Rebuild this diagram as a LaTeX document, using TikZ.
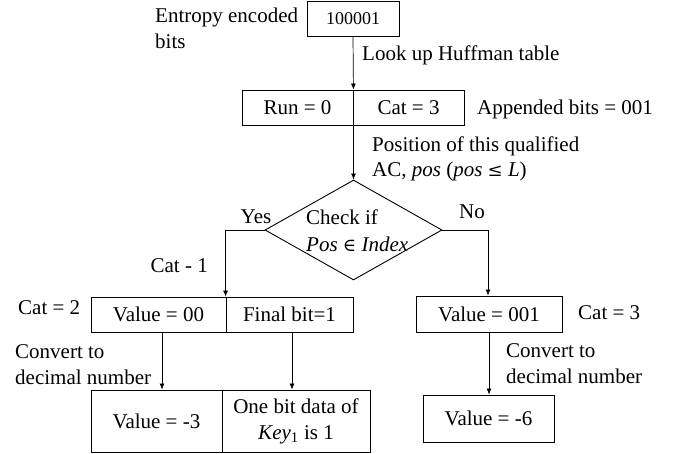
\documentclass[tikz,border=0pt]{standalone}
\usepackage{fontspec}
\setmainfont{Liberation Serif}
\newfontfamily\symfont{DejaVu Serif}
\usetikzlibrary{shapes.geometric,arrows.meta}
\begin{document}
\begin{tikzpicture}[x=1pt,y=-1pt,
  every node/.style={font=\fontsize{21}{26}\selectfont, inner sep=0pt},
  box/.style={draw, line width=0.9pt, minimum height=35pt},
  lbl/.style={align=left},
  arr/.style={-{Latex[length=6pt,width=5pt]}, line width=0.7pt},
]
\useasboundingbox (0,0) rectangle (683,453);
% boxes
\node[box, minimum width=92pt, font=\fontsize{18}{22}\selectfont] (bits) at (353,18.5) {100001};
\node[box, minimum width=111pt] (run) at (297.5,107.5) {Run = 0};
\node[box, minimum width=111pt] (cat) at (408.5,107.5) {Cat = 3};
\node[draw, shape=diamond, line width=0.9pt, minimum width=177pt, minimum height=100pt] (check) at (353.5,230) {};
\node[lbl, anchor=west, font=\fontsize{21}{27}\selectfont] (checktxt) at (306,230.5) {Check if\\\textit{Pos} {\symfont\fontsize{18}{27}\selectfont ∈} \textit{Index}};
\node[box, minimum width=135pt] (v00) at (158.5,314.5) {Value = 00};
\node[box, minimum width=127pt] (fb) at (289.5,314.5) {Final bit=1};
\node[box, minimum width=146pt, minimum height=36pt] (v001) at (489,314) {Value = 001};
\node[box, minimum width=131pt, minimum height=62pt] (vm3) at (156.5,421) {Value = -3};
\node[box, minimum width=148pt, minimum height=62pt, align=center] (key) at (296,421) {One bit data of\\\textit{Key}\textsubscript{1} is 1};
\node[box, minimum width=131pt, minimum height=47pt] (vm6) at (488.5,418.5) {Value = -6};
% labels
\node[lbl, anchor=west] (enc) at (155,28) {Entropy encoded\\bits};
\node[anchor=west] (look) at (362,55) {Look up Huffman table};
\node[anchor=west] (app) at (477,109) {Appended bits = 001};
\node[lbl, anchor=west, font=\fontsize{21}{25}\selectfont] (pos) at (372,158.5) {Position of this qualified\\AC, \textit{pos} (\textit{pos} {\symfont\fontsize{18}{25}\selectfont ≤} \textit{L})};
\node (yes) at (256,217) {Yes};
\node (no) at (472,212) {No};
\node[anchor=east] (cm1) at (208,266) {Cat - 1};
\node[anchor=west] (c2) at (18,308) {Cat = 2};
\node[anchor=west] (c3) at (578,313) {Cat = 3};
\node[lbl, anchor=west] (conv1) at (15,364.5) {Convert to\\decimal number};
\node[lbl, anchor=west] (conv2) at (506,364) {Convert to\\decimal number};
% connectors
\coordinate (a1) at ([xshift=3.5pt]v00.south);
\coordinate (a2) at ([xshift=2.5pt]fb.south);
\coordinate (a3) at ([xshift=-1pt]v001.north);
\draw[arr] (bits.south) -- (run.north east);
\draw[arr] (run.south east) -- (check.north);
\draw[arr] (check.west) -| (fb.north west);
\draw[arr] (check.east) -| (a3);
\draw[arr] (a1) -- (a1 |- vm3.north);
\draw[arr] (a2) -- (a2 |- key.north);
\draw[arr] (v001.south) -- (v001.south |- vm6.north);
\end{tikzpicture}
\end{document}
